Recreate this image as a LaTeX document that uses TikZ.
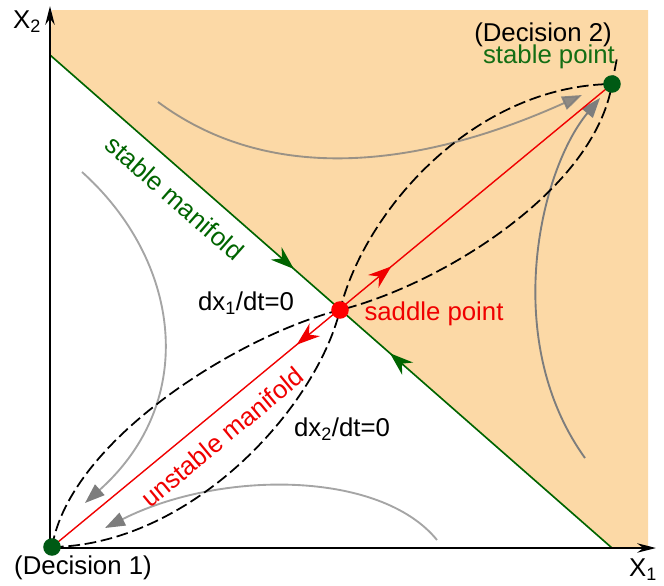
\documentclass[tikz,border=0pt]{standalone}
\usepackage{fontspec}
\setmainfont{Liberation Sans}
\usetikzlibrary{arrows.meta,decorations.markings,calc}
\definecolor{peach}{RGB}{252,217,166}
\definecolor{dkgreen}{RGB}{0,100,0}
\definecolor{dotgreen}{RGB}{0,90,20}
\definecolor{txtgreen}{RGB}{20,110,20}
\definecolor{vred}{RGB}{240,0,0}
\definecolor{flow}{RGB}{165,165,165}
\definecolor{flowdark}{RGB}{125,125,125}
\tikzset{
  axis/.style={line width=1.8pt,-{Stealth[length=16pt,width=8pt]}},
  nullcl/.style={line width=1.5pt,dash pattern=on 10pt off 4pt},
  manif/.style={line width=1.4pt,dkgreen},
  unstab/.style={line width=1.2pt,vred},
  traj/.style={line width=1.6pt,draw=flow,-{Triangle[length=17pt,width=12pt,color=flowdark]}},
  eqpt/.style={circle,inner sep=0pt,minimum size=15pt},
  lab/.style={font=\fontsize{22}{26}\selectfont,inner sep=1pt}
}
\begin{document}
\begin{tikzpicture}[x=0.03cm,y=-0.03cm]
  \useasboundingbox (0,0) rectangle (664,586);
  % points of the phase plane
  \coordinate (ax0) at (50,548);
  \coordinate (ytip) at (50,6);
  \coordinate (xtip) at (656,548);
  \coordinate (sm1) at (50,55);
  \coordinate (sm2) at (612,548);
  \coordinate (O) at (52,547);
  \coordinate (S) at (340,310);
  \coordinate (D2) at (612,84);

  % attraction basin of decision 2
  \fill[peach] (52,10) -- (648,10) -- (648,547) -- (sm2) -- (sm1) -- cycle;

  % flow lines
  \coordinate (t1a) at (158,102); \coordinate (t1b) at (582,95);
  \coordinate (t2a) at (585,458); \coordinate (t2b) at (600,98);
  \coordinate (t3a) at (82,172);  \coordinate (t3b) at (85,503);
  \coordinate (t4a) at (437,540); \coordinate (t4b) at (105,528);
  \draw[traj,draw=flowdark!90!peach,opacity=.85] (t1a) .. controls (290,200) and (460,150) .. (t1b);
  \draw[traj,draw=flowdark] (t2a) .. controls (500,340) and (540,170) .. (t2b);
  \draw[traj] (t3a) .. controls (180,260) and (200,400) .. (t3b);
  \draw[traj] (t4a) .. controls (380,470) and (220,470) .. (t4b);

  % nullclines
  \draw[nullcl] (O) .. controls (70,440) and (240,335) .. (S)
    .. controls (440,285) and (594,191) .. (D2) -- (617,58);
  \draw[nullcl] (O) .. controls (190,545) and (315,410) .. (S)
    .. controls (365,210) and (474,86) .. (D2);

  % manifolds
  \draw[manif,postaction={decorate},decoration={markings,
    mark=at position 0.434 with {\arrow{Stealth[length=20pt,width=14pt]}},
    mark=at position 0.605 with {\arrowreversed{Stealth[length=20pt,width=14pt]}}}]
    (sm1) -- (sm2);
  \draw[unstab,postaction={decorate},decoration={markings,
    mark=at position 0.437 with {\arrowreversed{Stealth[length=20pt,width=14pt]}},
    mark=at position 0.606 with {\arrow{Stealth[length=20pt,width=14pt]}}}]
    (O) -- (D2);

  % axes
  \draw[axis] (ax0) -- (ytip);
  \draw[axis] (ax0) -- (xtip);

  % equilibria
  \node[eqpt,fill=dotgreen] (dec1) at (O) {};
  \node[eqpt,fill=dotgreen] (dec2) at (D2) {};
  \node[eqpt,fill=red] (sad) at (S) {};

  % labels
  \node[lab] (ylab) at (27,22) {X\textsubscript{2}};
  \node[lab] (xlab) at (643,570) {X\textsubscript{1}};
  \node[lab] (d1lab) at (83,568) {(Decision 1)};
  \node[lab] (d2lab) at (543,35) {(Decision 2)};
  \node[lab,text=txtgreen] (splab) at (549,57) {stable point};
  \node[lab,text=vred] (sadlab) at (434,314) {saddle point};
  \node[lab] (n1lab) at (246,303) {dx\textsubscript{1}/dt=0};
  \node[lab] (n2lab) at (342,429) {dx\textsubscript{2}/dt=0};
  \node[lab,text=dkgreen,rotate=-41.3] (smlab) at (175,198) {stable manifold};
  \node[lab,text=vred,rotate=39.6] (umlab) at (222,437) {unstable manifold};
\end{tikzpicture}
\end{document}
